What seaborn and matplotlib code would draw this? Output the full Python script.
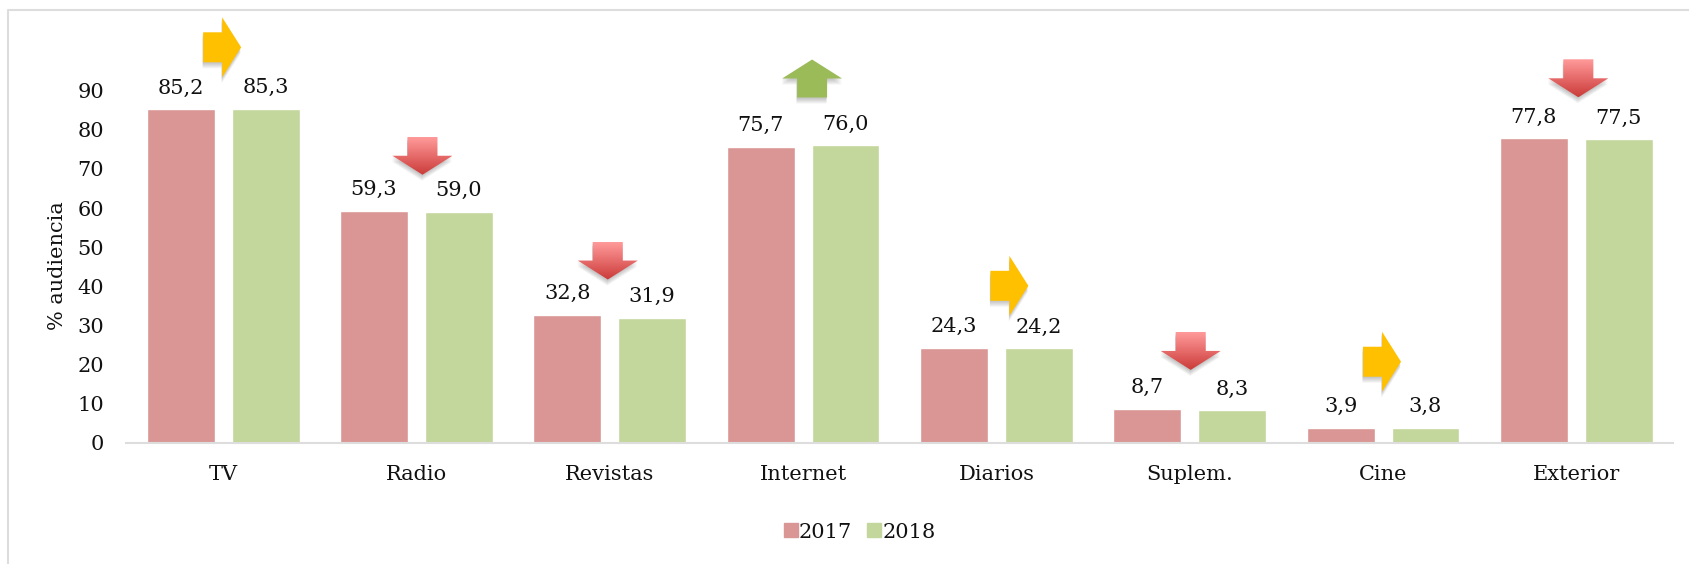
import matplotlib
matplotlib.use('Agg')
import numpy as np
import pandas as pd
import matplotlib.pyplot as plt
import seaborn as sns
from matplotlib.lines import Line2D
from matplotlib.patches import Polygon
from matplotlib.transforms import IdentityTransform

categories = ['TV', 'Radio', 'Revistas', 'Internet', 'Diarios', 'Suplem.', 'Cine', 'Exterior']
values_2017 = [85.2, 59.3, 32.8, 75.7, 24.3, 8.7, 3.9, 77.8]
values_2018 = [85.3, 59.0, 31.9, 76.0, 24.2, 8.3, 3.8, 77.5]
years = ['2017', '2018']
trend = ['flat', 'down', 'down', 'up', 'flat', 'down', 'flat', 'down']

# arrow centre relative to the top of the 2017 bar, pixels (right, up)
arrow_offset = [(-1, 62), (6, 55), (-2, 54), (9, 68), (13, 62), (1, 58), (-1, 66), (2, 60)]

W, H = 1690, 564
FONT = 'DejaVu Serif'
TEXT = '#111111'
FS = 15

sns.set_theme(style='white')
plt.rcParams['font.family'] = FONT

df = pd.DataFrame({'medio': categories * 2,
                   'anio': [years[0]] * 8 + [years[1]] * 8,
                   'valor': values_2017 + values_2018})

fig = plt.figure(figsize=(W / 100, H / 100), dpi=100)
ax = fig.add_axes([126.5 / W, 1 - 443 / H, (1673 - 126.5) / W, (443 - 90.5) / H])

sns.barplot(data=df, x='medio', y='valor', hue='anio', palette=['#D99694', '#C3D69B'],
            width=0.878, gap=0.2, saturation=1, legend=False, ax=ax)
ax.set_xlim(-0.5, 7.5)
ax.set_ylim(0, 90)
ax.set_yticks(range(0, 100, 10))
ax.set_xlabel('')
ax.set_ylabel('')
ax.tick_params(axis='both', length=0, labelsize=FS, labelcolor=TEXT)
ax.tick_params(axis='y', pad=16)
ax.tick_params(axis='x', pad=16)
for s in ['top', 'right', 'left']:
    ax.spines[s].set_visible(False)
ax.spines['bottom'].set_color('#DDDDDD')
ax.spines['bottom'].set_linewidth(1.5)

# value labels with decimal comma
for cont in ax.containers:
    labels = [f'{b.get_height():.1f}'.replace('.', ',') for b in cont]
    ax.bar_label(cont, labels=labels, padding=8.5, fontsize=FS, color=TEXT, clip_on=False)

fig.text(58 / W, 1 - 266 / H, '% audiencia', rotation=90, ha='center', va='center',
         fontsize=FS, color=TEXT)

# legend
handles = [Line2D([], [], marker='s', linestyle='', markersize=9.5, color=c) for c in ['#D99694', '#C3D69B']]
fig.legend(handles, years, loc='center', bbox_to_anchor=(858 / W, 1 - 532 / H), ncols=2, frameon=False,
           fontsize=FS, handlelength=1, handletextpad=-0.1, columnspacing=0.55, labelcolor=TEXT)

# outer frame, only top and left are visible
fig.add_artist(Line2D([8 / W, 8 / W, 1], [0, 1 - 10 / H, 1 - 10 / H], color='#DDDDDD', lw=1.5))

pix = IdentityTransform()
xlim, ylim = ax.get_xlim(), ax.get_ylim()


def arrow_shape(kind):
    if kind == 'flat':
        return np.array([(-19, -15), (0, -15), (0, -30), (19, 0), (0, 30), (0, 15), (-19, 15)], float)
    if kind == 'down':
        return np.array([(-15, 19), (15, 19), (15, 0), (30, 0), (0, -19), (-30, 0), (-15, 0)], float)
    return np.array([(-15, -19), (15, -19), (15, 0), (30, 0), (0, 19), (-30, 0), (-15, 0)], float)


for i, kind in enumerate(trend):
    x0, y0 = ax.transData.transform((i, values_2017[i]))
    x0 += arrow_offset[i][0]
    y0 += arrow_offset[i][1]
    pts = arrow_shape(kind) + (x0, y0)
    # soft shadow, a stack of faint copies sliding downwards
    for dy in range(1, 7):
        sh = pts + (-0.5, -dy)
        ax.add_patch(Polygon(sh, closed=True, transform=pix, fc='#404040', ec='none',
                             alpha=0.055, zorder=5, clip_on=False))
    if kind == 'down':
        patch = Polygon(pts, closed=True, transform=pix, fc='none', ec='none', zorder=6, clip_on=False)
        ax.add_patch(patch)
        top = np.array([255, 154, 154]) / 255
        bot = np.array([203, 60, 58]) / 255
        grad = np.linspace(top, bot, 40)[:, None, :]
        im = ax.imshow(grad, extent=(pts[:, 0].min(), pts[:, 0].max(), pts[:, 1].min(), pts[:, 1].max()),
                       transform=pix, aspect='auto', zorder=6, interpolation='bilinear')
        im.set_clip_box(fig.bbox)
        im.set_clip_path(patch)
    else:
        color = '#FFC000' if kind == 'flat' else '#9BBB59'
        ax.add_patch(Polygon(pts, closed=True, transform=pix, fc=color, ec='none', zorder=6, clip_on=False))

ax.set_xlim(xlim)
ax.set_ylim(ylim)
ax.set_aspect('auto')

fig.savefig('out.png', dpi=100, facecolor='white')
